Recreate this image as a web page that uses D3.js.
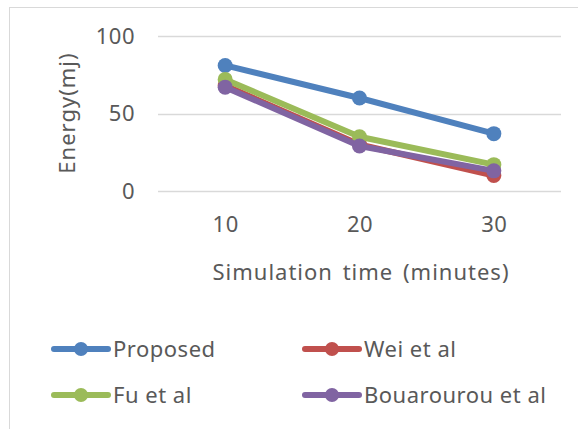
<!DOCTYPE html>
<html>
<head>
<meta charset="utf-8">
<script src="https://cdn.jsdelivr.net/npm/d3@7"></script>
<style>
  html, body { margin: 0; padding: 0; background: #fff; }
  svg { display: block; font-family: "Noto Sans", "Open Sans", sans-serif; }
  svg text { letter-spacing: 0.5px; }
</style>
</head>
<body>
<svg id="chart" width="578" height="429"></svg>
<script>
// Simulation time categories (minutes)
const categories = ["10", "20", "30"];

// Energy consumption per method (mj)
const proposed   = [81, 60, 37];
const weiEtAl    = [68, 30, 10];
const fuEtAl     = [72, 35, 17];
const bouarourou = [67, 29, 13];

const seriesNames  = ["Proposed", "Wei et al", "Fu et al", "Bouarourou et al"];
const seriesColors = ["#4F81BD", "#C0504D", "#9BBB59", "#8064A2"];
const yTicks = [0, 50, 100];

const series = [proposed, weiEtAl, fuEtAl, bouarourou].map((values, i) => ({
  name: seriesNames[i],
  color: seriesColors[i],
  values
}));

const svg = d3.select("#chart");
const textColor = "#595959";
const fontSize = 22;

// chart frame
svg.append("rect")
  .attr("x", 9.5).attr("y", 7.5)
  .attr("width", 600).attr("height", 440)
  .attr("fill", "#fff").attr("stroke", "#d9d9d9").attr("stroke-width", 1);

const plot = { left: 158, right: 561, top: 36, bottom: 191 };

const x = d3.scalePoint()
  .domain(categories)
  .range([plot.left, plot.right])
  .padding(0.5);

const y = d3.scaleLinear()
  .domain([0, 100])
  .range([plot.bottom, plot.top]);

// horizontal gridlines
svg.append("g")
  .selectAll("line")
  .data(yTicks)
  .join("line")
  .attr("x1", plot.left).attr("x2", plot.right)
  .attr("y1", d => Math.round(y(d)) + 0.5)
  .attr("y2", d => Math.round(y(d)) + 0.5)
  .attr("stroke", "#d9d9d9").attr("stroke-width", 1.5);

// y axis labels
const yAxis = d3.axisLeft(y).tickValues(yTicks).tickSize(0).tickPadding(0);
const gy = svg.append("g").attr("transform", `translate(${plot.left - 23},0)`).call(yAxis);
gy.select(".domain").remove();
gy.selectAll("text")
  .attr("fill", textColor)
  .style("font-size", fontSize + "px")
  .style("font-family", "\"Noto Sans\", sans-serif");

// x axis labels
const xAxis = d3.axisBottom(x).tickSize(0).tickPadding(0);
const gx = svg.append("g").attr("transform", `translate(0,${plot.bottom + 25})`).call(xAxis);
gx.select(".domain").remove();
gx.selectAll("text")
  .attr("fill", textColor)
  .style("font-size", fontSize + "px")
  .style("font-family", "\"Noto Sans\", sans-serif");

// axis titles
svg.append("text")
  .attr("transform", `translate(75,113) rotate(-90)`)
  .attr("text-anchor", "middle")
  .attr("fill", textColor)
  .style("font-size", fontSize + "px")
  .style("letter-spacing", "1px")
  .text("Energy(mj)");

svg.append("text")
  .attr("x", 361).attr("y", 280)
  .attr("text-anchor", "middle")
  .attr("fill", textColor)
  .style("font-size", fontSize + "px")
  .style("letter-spacing", "1px")
  .style("word-spacing", "3px")
  .text("Simulation time (minutes)");

// series lines and markers
const line = d3.line()
  .x((d, i) => x(categories[i]))
  .y(d => y(d));

const sg = svg.append("g")
  .selectAll("g")
  .data(series)
  .join("g");

sg.append("path")
  .attr("d", d => line(d.values))
  .attr("fill", "none")
  .attr("stroke", d => d.color)
  .attr("stroke-width", 6)
  .attr("stroke-linejoin", "round");

sg.selectAll("circle")
  .data(d => d.values.map((v, i) => ({ v, i, color: d.color })))
  .join("circle")
  .attr("cx", d => x(categories[d.i]))
  .attr("cy", d => y(d.v))
  .attr("r", 7.5)
  .attr("fill", d => d.color);

// legend (2 x 2)
const legendPos = [[54, 349], [305, 349], [54, 395], [305, 395]];
const lg = svg.append("g")
  .selectAll("g")
  .data(series)
  .join("g")
  .attr("transform", (d, i) => `translate(${legendPos[i][0]},${legendPos[i][1]})`);

lg.append("line")
  .attr("x1", 0).attr("x2", 54)
  .attr("stroke", d => d.color)
  .attr("stroke-width", 6)
  .attr("stroke-linecap", "round");

lg.append("circle")
  .attr("cx", 27).attr("r", 7)
  .attr("fill", d => d.color);

lg.append("text")
  .attr("x", 59).attr("dy", "0.35em")
  .attr("fill", textColor)
  .style("font-size", fontSize + "px")
  .text(d => d.name);
</script>
</body>
</html>
